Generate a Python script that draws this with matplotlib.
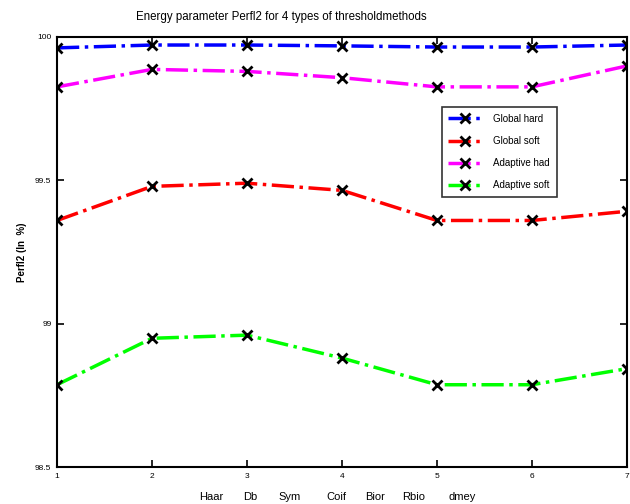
import matplotlib
matplotlib.use("Agg")
import matplotlib.pyplot as plt

plt.rcParams['font.family'] = ['Liberation Sans', 'DejaVu Sans']

x = [1, 2, 3, 4, 5, 6, 7]
global_hard = [99.962, 99.972, 99.972, 99.969, 99.965, 99.965, 99.972]
global_soft = [99.36, 99.479, 99.49, 99.465, 99.36, 99.36, 99.392]
adaptive_hard = [99.826, 99.887, 99.88, 99.858, 99.826, 99.826, 99.899]
adaptive_soft = [98.787, 98.949, 98.96, 98.88, 98.787, 98.787, 98.843]

series = [
    ("Global hard", global_hard, "#0000ff"),
    ("Global soft", global_soft, "#ff0000"),
    ("Adaptive had", adaptive_hard, "#ff00ff"),
    ("Adaptive soft", adaptive_soft, "#00ff00"),
]
wavelets = ["Haar", "Db", "Sym", "Coif", "Bior", "Rbio", "dmey"]
wavelet_px = [211, 250, 290, 336, 375, 414, 462]

fig = plt.figure(figsize=(6.3, 5.04), dpi=100)
ax = fig.add_axes([0.0905, 0.0734, 0.9045, 0.8532])

for name, vals, col in series:
    ax.plot(x, vals, color=col, linestyle='-.', linewidth=2.5,
            marker='x', markersize=7, markeredgewidth=2.0,
            markeredgecolor='black', label=name)

ax.set_xlim(1, 7)
ax.set_ylim(98.5, 100)
ax.set_xticks(x)
ax.set_yticks([98.5, 99, 99.5, 100])
ax.set_yticklabels(["98.5", "99", "99.5", "100"])
ax.tick_params(direction='in', length=5, width=1.2, labelsize=6,
               top=True, right=True, pad=4)
for s in ax.spines.values():
    s.set_linewidth(1.5)

fig.text(281 / 630, 1 - 17 / 504,
         "Energy parameter Perfl2 for 4 types of thresholdmethods",
         fontsize=8.3, ha='center', va='center')
ax.set_ylabel("Perfl2 (In  %)", fontsize=7, fontweight='bold', labelpad=6)
for w, px in zip(wavelets, wavelet_px):
    fig.text(px / 630, 0.014, w, fontsize=8, ha='center', va='center')

leg = ax.legend(loc='upper left', bbox_to_anchor=(0.675, 0.837), fontsize=7,
                frameon=True, fancybox=False, edgecolor='black',
                handlelength=3.4, handletextpad=1.2, borderpad=0.7,
                labelspacing=1.25, markerscale=1.0, borderaxespad=0)
leg.get_frame().set_linewidth(1.2)

fig.savefig("out.png", dpi=100)
